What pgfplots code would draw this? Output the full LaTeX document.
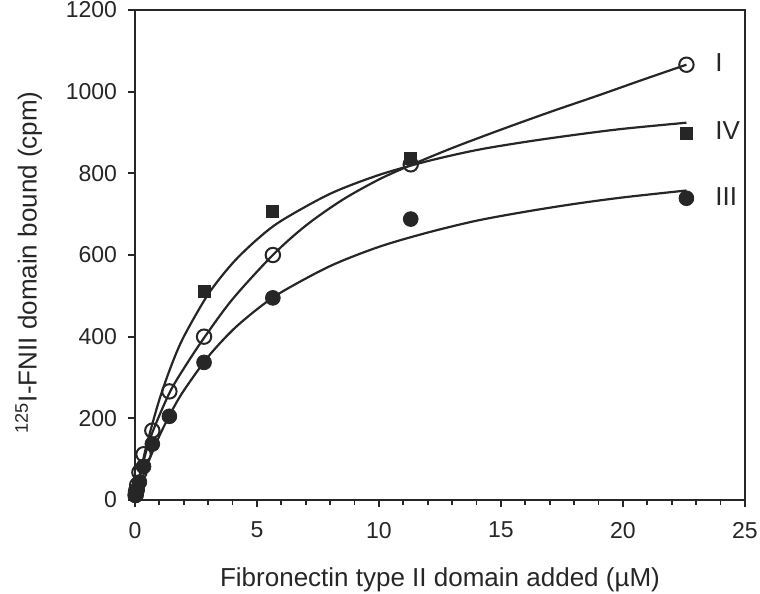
\documentclass[border=0pt]{standalone}
\usepackage{fontspec}
\setmainfont{Liberation Sans}
\usepackage{pgfplots}
\pgfplotsset{compat=1.18}
\begin{document}
\begin{tikzpicture}
\useasboundingbox (-67.5pt,-47pt) rectangle (312.5pt,250pt);
\begin{axis}[
  at={(0,0)}, anchor=south west,
  scale only axis, width=305pt, height=245pt,
  xmin=0, xmax=25, ymin=0, ymax=1200,
  xtick={0,5,...,25}, minor xtick={1,2,...,24},
  ytick={0,200,...,1200},
  axis line style={line width=0.9pt, black!85},
  tick align=outside, tick pos=left,
  major tick length=3.5pt, minor tick length=2.5pt,
  every tick/.style={black!85, line width=0.9pt},
  /pgf/number format/assume math mode=true,
  /pgf/number format/1000 sep={},
  tick label style={font=\fontsize{11.5}{13}\selectfont, text=black!85},
  xticklabel style={yshift=-4pt},
  yticklabel style={xshift=-2pt},
  label style={font=\fontsize{13}{15}\selectfont, text=black!85},
  xlabel={Fibronectin type II domain added (µM)},
  ylabel={\textsuperscript{125}I-FNII domain bound (cpm)},
  xlabel style={yshift=-8pt},
  ylabel style={at={(ticklabel cs:0.485)}, yshift=5pt},
  clip=false,
]
% fitted curves
\addplot[black!85, line width=1.1pt, smooth] coordinates {
(0,0) (0.35,95) (0.71,165) (1.41,262) (2,322) (2.83,397) (4,492) (5.65,600) (7,672) (8.5,735) (10,785) (11.3,820) (13,862) (15,907) (17,950) (19,991) (20.8,1029) (22.6,1066)};
\addplot[black!85, line width=1.1pt, smooth] coordinates {
(0,0) (0.25,75) (0.5,140) (1,246) (1.5,331) (2,400) (3,504) (4,580) (5,638) (6,684) (8,750) (10,796) (12,830) (14,857) (16,877) (18,894) (20,909) (22.6,924)};
\addplot[black!85, line width=1.1pt, smooth] coordinates {
(0,0) (0.25,45) (0.5,86) (1,157) (1.5,217) (2,268) (3,351) (4,416) (5,467) (6,509) (8,573) (10,620) (12,655) (14,684) (16,706) (18,725) (20,741) (22.6,758)};
% data IV (squares)
\addplot[only marks, mark=square*, mark size=3pt, black!85] coordinates {
(2.83,512) (5.65,707) (11.3,836) (22.6,898)};
% data III (filled circles)
\addplot[only marks, mark=*, mark size=3.7pt, black!85] coordinates {
(0.044,13) (0.09,25) (0.18,44) (0.35,82) (0.71,137) (1.41,205) (2.83,337) (5.65,495) (11.3,688) (22.6,739)};
% data I (open circles)
\addplot[only marks, mark=o, mark size=3.6pt, black!85, line width=1pt, mark options={fill=white}] coordinates {
(0.022,12) (0.044,22) (0.09,37) (0.18,68) (0.35,112) (0.71,170) (1.41,266) (2.83,400) (5.65,600) (11.3,822) (22.6,1066)};
\node[font=\fontsize{13}{15}\selectfont, text=black!85, anchor=west] at (axis cs:23.5,1072) {I};
\node[font=\fontsize{13}{15}\selectfont, text=black!85, anchor=west] at (axis cs:23.5,905) {IV};
\node[font=\fontsize{13}{15}\selectfont, text=black!85, anchor=west] at (axis cs:23.5,742) {III};
\end{axis}
\end{tikzpicture}
\end{document}
